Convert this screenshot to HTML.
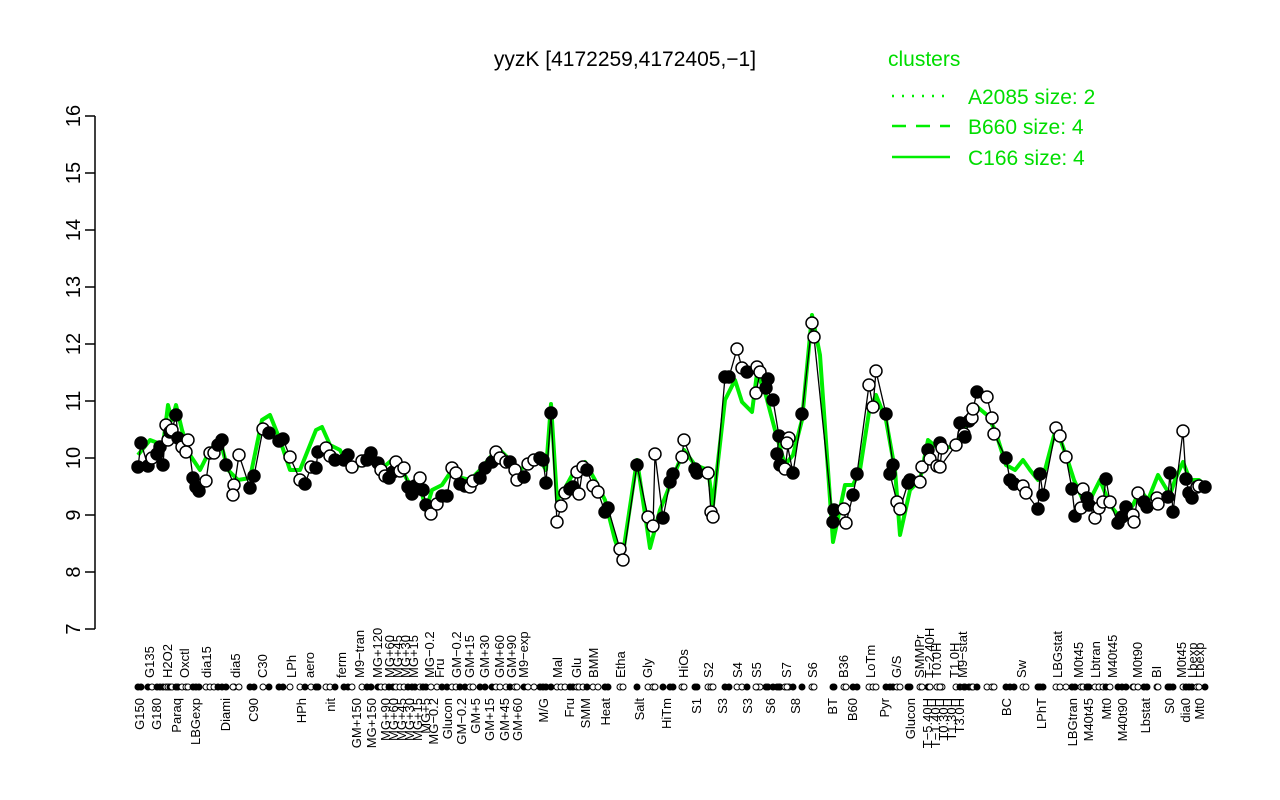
<!DOCTYPE html>
<html><head><meta charset="utf-8"><style>
html,body{margin:0;padding:0;background:#fff;}
svg{display:block;font-family:"Liberation Sans",sans-serif;}
</style></head><body>
<svg id="s" width="1280" height="800" viewBox="0 0 1280 800" xmlns="http://www.w3.org/2000/svg">
<rect width="1280" height="800" fill="#fff"/>
<text x="625" y="66" font-size="21" text-anchor="middle">yyzK [4172259,4172405,−1]</text>
<g stroke="#000" stroke-width="1.5">
<line x1="95" y1="116" x2="95" y2="629"/>
<line x1="85" y1="116" x2="95" y2="116"/><line x1="85" y1="173" x2="95" y2="173"/><line x1="85" y1="230" x2="95" y2="230"/><line x1="85" y1="287" x2="95" y2="287"/><line x1="85" y1="344" x2="95" y2="344"/><line x1="85" y1="401" x2="95" y2="401"/><line x1="85" y1="458" x2="95" y2="458"/><line x1="85" y1="515" x2="95" y2="515"/><line x1="85" y1="572" x2="95" y2="572"/><line x1="85" y1="629" x2="95" y2="629"/>
</g>
<g font-size="20" text-anchor="middle">
<text transform="translate(80,116) rotate(-90)">16</text><text transform="translate(80,173) rotate(-90)">15</text><text transform="translate(80,230) rotate(-90)">14</text><text transform="translate(80,287) rotate(-90)">13</text><text transform="translate(80,344) rotate(-90)">12</text><text transform="translate(80,401) rotate(-90)">11</text><text transform="translate(80,458) rotate(-90)">10</text><text transform="translate(80,515) rotate(-90)">9</text><text transform="translate(80,572) rotate(-90)">8</text><text transform="translate(80,629) rotate(-90)">7</text>
</g>
<text x="888" y="66" font-size="21" fill="#00dd00">clusters</text>
<g stroke="#00ee00" stroke-width="2.5">
<line x1="892" y1="96" x2="950" y2="96" stroke-dasharray="2,8"/>
<line x1="892" y1="126" x2="950" y2="126" stroke-dasharray="14,10"/>
<line x1="892" y1="157" x2="950" y2="157"/>
</g>
<g font-size="21" fill="#00dd00">
<text x="968" y="104">A2085 size: 2</text><text x="968" y="134">B660 size: 4</text><text x="968" y="165">C166 size: 4</text>
</g>
<g id="g"></g>
</svg>
<script>
var P=[[138,467,1],[141,443,1],[148,466,1],[152,458,0],[157,454,1],[160,447,1],[163,465,1],[166,425,0],[168,440,0],[170,432,1],[172,430,0],[176,415,1],[178,438,1],[182,447,0],[186,452,0],[188,440,0],[193,478,1],[196,487,1],[199,491,1],[206,481,0],[210,453,0],[214,453,0],[218,445,1],[222,440,1],[226,465,1],[234,485,0],[233,495,0],[239,455,0],[250,488,1],[254,476,1],[263,429,0],[269,433,1],[279,441,1],[283,439,1],[290,457,0],[300,480,0],[305,484,1],[311,467,0],[316,468,1],[318,452,1],[326,448,0],[330,456,0],[335,460,1],[344,460,1],[348,455,1],[352,467,0],[362,461,0],[367,460,1],[371,453,1],[378,463,1],[381,470,0],[385,476,0],[389,478,1],[393,472,1],[396,462,0],[400,471,0],[404,468,0],[408,487,1],[412,494,1],[415,486,1],[420,478,0],[423,490,1],[426,505,1],[431,514,0],[437,504,0],[442,496,1],[447,496,1],[452,468,0],[456,473,0],[460,484,1],[465,486,1],[470,487,0],[473,481,0],[480,478,1],[485,468,1],[492,462,1],[496,452,0],[500,458,0],[506,462,0],[510,462,1],[515,470,0],[517,480,0],[524,477,1],[528,464,0],[534,460,0],[540,458,1],[543,460,1],[546,483,1],[551,413,1],[557,522,0],[561,506,0],[565,493,0],[570,489,1],[573,487,1],[577,472,0],[579,494,0],[583,467,0],[587,470,1],[593,486,0],[598,492,0],[605,512,1],[608,508,1],[620,549,0],[623,560,0],[637,465,1],[648,517,0],[653,526,0],[655,454,0],[663,518,1],[670,482,1],[673,474,1],[682,457,0],[684,440,0],[695,469,1],[697,473,1],[708,473,0],[711,512,0],[713,517,0],[725,377,1],[729,377,1],[737,349,0],[742,368,0],[747,372,1],[757,367,0],[760,372,0],[756,393,0],[768,379,1],[766,388,1],[773,400,1],[779,436,1],[777,454,1],[780,465,1],[785,469,0],[789,438,0],[787,443,0],[793,473,1],[802,414,1],[812,323,0],[814,337,0],[833,522,1],[834,510,1],[844,509,0],[846,523,0],[853,495,1],[857,474,1],[869,385,0],[873,407,0],[876,371,0],[886,414,1],[893,465,1],[890,474,1],[897,502,0],[900,509,0],[908,483,1],[910,480,1],[920,482,0],[922,467,0],[928,450,1],[930,459,0],[937,466,0],[940,443,1],[942,448,0],[940,467,0],[956,445,0],[960,423,1],[964,434,0],[965,437,1],[969,421,1],[972,418,0],[973,409,0],[977,392,1],[987,397,0],[992,418,0],[994,434,0],[1006,458,1],[1010,480,1],[1014,484,1],[1023,486,0],[1026,493,0],[1038,509,1],[1040,474,1],[1043,495,1],[1056,428,0],[1060,436,0],[1066,457,0],[1072,489,1],[1075,516,1],[1081,508,0],[1083,489,0],[1087,498,1],[1089,505,1],[1095,518,0],[1099,508,0],[1103,502,0],[1106,479,1],[1110,502,0],[1118,523,1],[1122,517,1],[1126,507,1],[1133,515,0],[1134,522,0],[1138,493,0],[1144,502,1],[1147,507,1],[1157,498,0],[1158,504,0],[1168,497,1],[1170,473,1],[1173,512,1],[1183,431,0],[1186,479,1],[1189,493,1],[1192,498,1],[1197,487,0],[1199,486,0],[1205,487,1]];
var G=[[138,455],[150,440],[163,445],[168,405],[172,420],[176,405],[182,430],[190,455],[200,470],[210,450],[220,440],[228,470],[238,480],[250,478],[262,420],[270,415],[280,440],[290,470],[300,470],[308,450],[316,430],[322,427],[330,445],[340,450],[350,470],[360,465],[370,460],[380,470],[392,460],[402,470],[410,485],[420,485],[426,510],[432,490],[442,485],[452,470],[462,478],[470,480],[480,470],[492,455],[500,450],[510,460],[520,470],[530,462],[540,460],[546,470],[551,404],[557,500],[565,488],[575,470],[585,462],[595,480],[605,500],[615,540],[622,560],[637,460],[650,548],[660,510],[672,480],[684,450],[695,465],[708,470],[713,505],[725,400],[735,380],[742,402],[752,412],[757,373],[765,392],[775,430],[785,465],[793,455],[802,420],[812,315],[820,355],[833,542],[845,485],[853,485],[860,470],[869,412],[876,395],[886,420],[895,470],[900,535],[910,490],[920,480],[928,440],[940,450],[956,445],[965,430],[975,405],[987,415],[995,430],[1006,465],[1015,470],[1023,460],[1030,470],[1038,480],[1045,470],[1056,428],[1066,455],[1074,480],[1083,500],[1090,500],[1100,480],[1110,505],[1122,520],[1133,505],[1140,490],[1148,500],[1158,475],[1170,495],[1175,480],[1183,462],[1190,480],[1199,480],[1205,485]];
var ns="http://www.w3.org/2000/svg",g=document.getElementById('g');
function el(t,a){var e=document.createElementNS(ns,t);for(var k in a)e.setAttribute(k,a[k]);g.appendChild(e);return e;}
el('polyline',{points:G.map(function(p){return p.join(',')}).join(' '),fill:'none',stroke:'#00ee00','stroke-width':4,'stroke-linejoin':'round'});
el('polyline',{points:P.map(function(p){return p[0]+','+p[1]}).join(' '),fill:'none',stroke:'#000','stroke-width':1.3});
P.forEach(function(p){el('circle',{cx:p[0],cy:p[1],r:6,fill:p[2]?'#000':'#fff',stroke:'#000','stroke-width':1.5});});
P.forEach(function(p){el('circle',{cx:p[0],cy:687,r:3,fill:p[2]?'#000':'#fff',stroke:'#000','stroke-width':1});});
var T=[[150,'G135'],[168,'H2O2'],[185,'Oxctl'],[207,'dia15'],[236,'dia5'],[263,'C30'],[292,'LPh'],[310,'aero'],[342,'ferm'],[360,'M9−tran'],[378,'MG+120'],[390,'MG+60'],[398,'MG+45'],[406,'MG+30'],[414,'MG+15'],[430,'MG−0.2'],[440,'Fru'],[457,'GM−0.2'],[470,'GM+15'],[485,'GM+30'],[500,'GM+60'],[512,'GM+90'],[524,'M9−exp'],[558,'Mal'],[577,'Glu'],[594,'BMM'],[621,'Etha'],[648,'Gly'],[684,'HiOs'],[709,'S2'],[738,'S4'],[757,'S5'],[787,'S7'],[813,'S6'],[844,'B36'],[871,'LoTm'],[897,'G/S'],[920,'SMMPr'],[930,'T−2.40H'],[937,'T0.0H'],[955,'T1.0H'],[963,'M9−stat'],[1022,'Sw'],[1058,'LBGstat'],[1079,'M0t45'],[1096,'Lbtran'],[1113,'M40t45'],[1138,'M0t90'],[1157,'BI'],[1182,'M0t45'],[1193,'Lbexp'],[1200,'Lbexp']];
T.forEach(function(t){var e=el('text',{transform:'translate('+(t[0]+4)+',678) rotate(-90)','font-size':13});e.textContent=t[1];});
var B=[[140,'G150'],[157,'G180'],[177,'Paraq'],[196,'LBGexp'],[226,'Diami'],[254,'C90'],[302,'HPh'],[331,'nit'],[357,'GM+150'],[372,'MG+150'],[386,'MG+90'],[394,'MG+60'],[402,'MG+45'],[410,'MG+30'],[418,'MG+15'],[426,'MG+5'],[434,'MG−0.2'],[448,'Glucon'],[462,'GM−0.2'],[476,'GM+5'],[490,'GM+15'],[505,'GM+45'],[518,'GM+60'],[544,'M/G'],[570,'Fru'],[586,'SMM'],[606,'Heat'],[640,'Salt'],[667,'HiTm'],[697,'S1'],[723,'S3'],[748,'S3'],[771,'S6'],[796,'S8'],[833,'BT'],[853,'B60'],[885,'Pyr'],[911,'Glucon'],[928,'T−5.40H'],[936,'T−1.40H'],[944,'T0.30H'],[952,'T1.30H'],[960,'T3.0H'],[1007,'BC'],[1042,'LPhT'],[1073,'LBGtran'],[1089,'M40t45'],[1107,'Mt0'],[1123,'M40t90'],[1146,'Lbstat'],[1170,'S0'],[1186,'dia0'],[1200,'Mt0']];
B.forEach(function(t){var e=el('text',{transform:'translate('+(t[0]+4)+',698) rotate(-90)','font-size':13,'text-anchor':'end'});e.textContent=t[1];});
</script>
</body></html>
